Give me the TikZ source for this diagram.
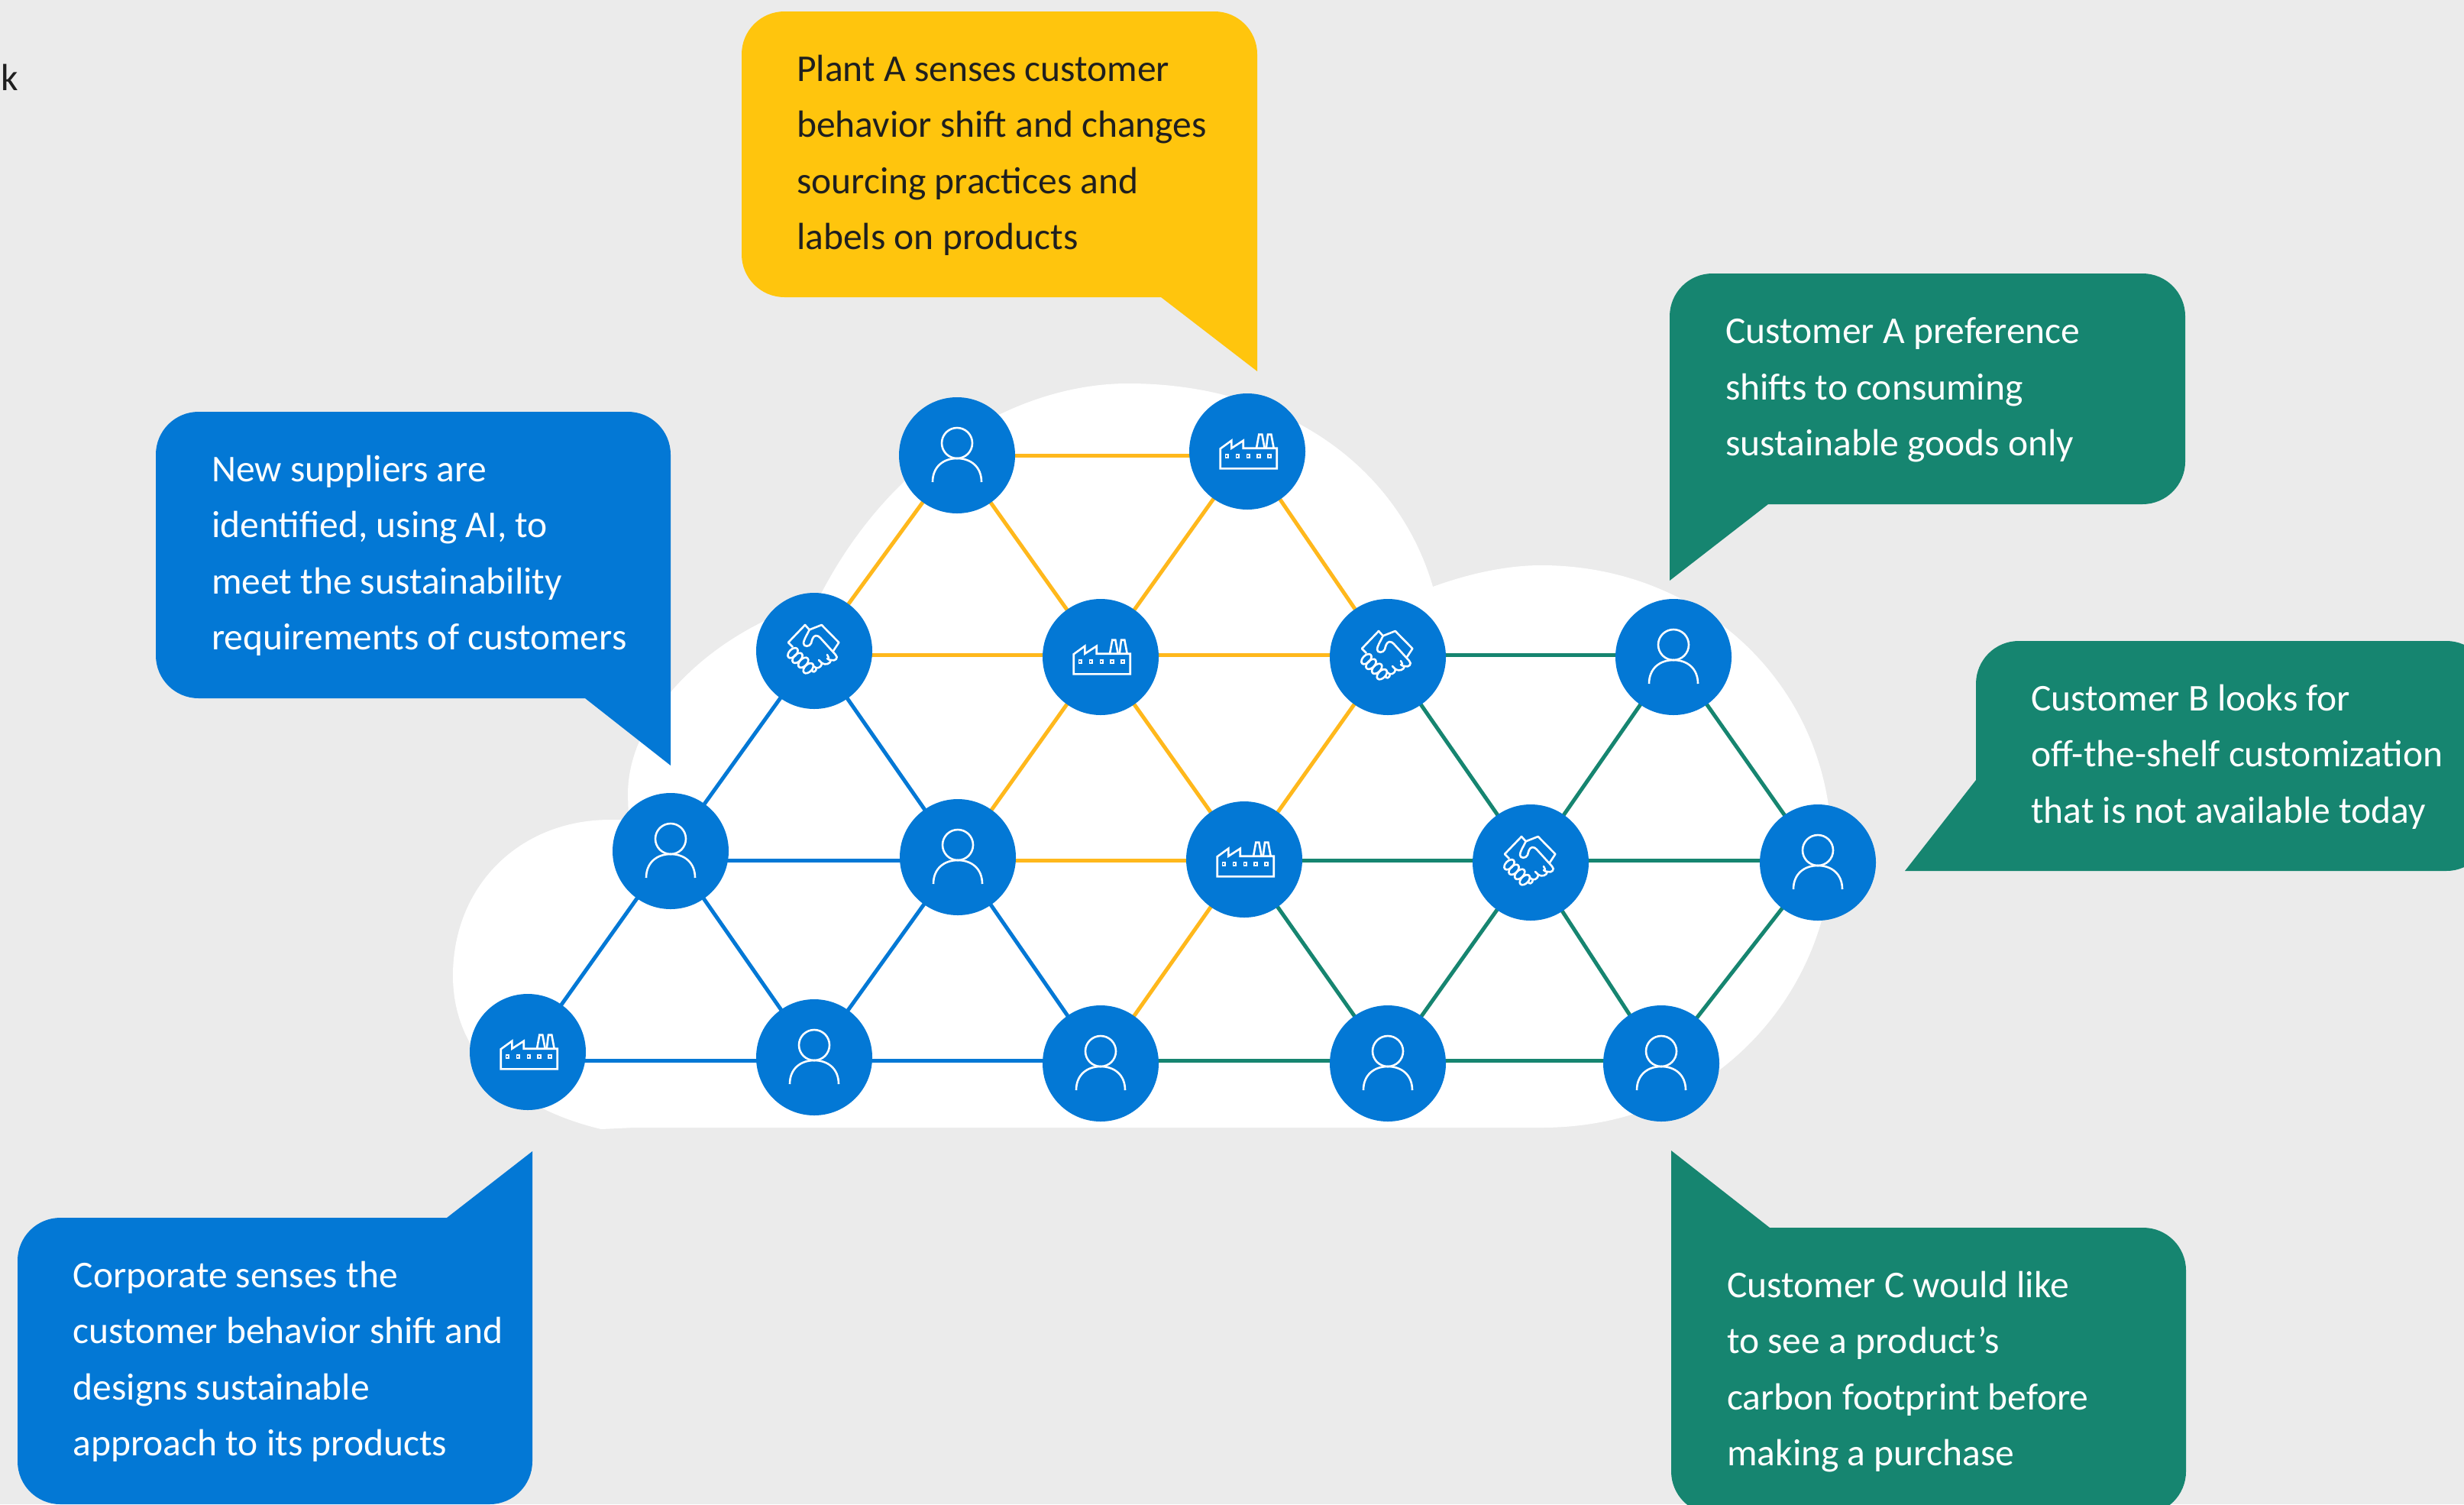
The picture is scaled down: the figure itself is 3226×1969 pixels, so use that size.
\documentclass[tikz,border=0pt]{standalone}
\usepackage{fontspec}
\setmainfont{Carlito}
\usetikzlibrary{backgrounds}
\definecolor{bgc}{HTML}{EBEBEB}
\definecolor{hubblue}{HTML}{0378D5}
\definecolor{linkyellow}{HTML}{FFB81C}
\definecolor{noteyellow}{HTML}{FFC50D}
\definecolor{notegreen}{HTML}{168570}
\tikzset{
  hub/.style={circle,fill=hubblue,draw=none,minimum size=152bp,inner sep=0pt},
  ylink/.style={draw=linkyellow,line width=5bp},
  blink/.style={draw=hubblue,line width=5bp},
  glink/.style={draw=notegreen,line width=5bp},
  note/.style={rounded corners=56bp},
  notetext/.style={anchor=base west,inner sep=0pt,font=\notefont},
  icon/.style={draw=white,line width=2.6bp,fill=none,line join=miter},
  person/.pic={
    \draw[icon] (0,-16) circle [radius=20];
    \draw[icon] (-32,35) .. controls (-32,15) and (-18,4) .. (0,4) .. controls (18,4) and (32,15) .. (32,35);
  },
  factory/.pic={
    \draw[icon] (-35.3,22.3) -- (-35.3,-3.7) -- (-20.7,-14.3) -- (-20.7,-4.3) -- (-5.3,-14.3) -- (-5.3,-4.3) -- (38.7,-4.3) -- (38.7,22.3) -- cycle;
    \draw[icon] (12,-4.3) -- (15.3,-22.3) -- (19.3,-22.3) -- (22.7,-4.3);
    \draw[icon] (24.7,-4.3) -- (27,-22.3) -- (31.3,-22.3) -- (34.7,-4.3);
    \foreach \wx in {-26.7,-12.7,1.3,15,29}{
      \draw[white,line width=1.8bp] (\wx-1.9,3.8) rectangle (\wx+1.9,7.6);
    }
  },
  handshake/.pic={
    \draw[icon,line join=round,line cap=round] (-34,-11) -- (-12,-34) -- (-6.3,-27.7) -- (9.7,-34) -- (32.3,-11) -- (25,0);
    \draw[icon,line join=round,line cap=round] (-6.3,-27.7) .. controls (-10,-20) and (-14,-14) .. (-14,-10) .. controls (-14,-5) and (-6,-5) .. (-4,-10) .. controls (-3,-14) and (-2,-19) .. (2,-20) .. controls (5,-20) and (6,-19) .. (8,-17) -- (28,5) .. controls (32,9) and (28,14) .. (22,12) .. controls (20,12) and (18,11) .. (17,10);
    \draw[icon,line join=round,line cap=round] (22,12) .. controls (21,17) and (15,19) .. (10,16) -- (6,12);
    \draw[icon,line join=round,line cap=round] (17,5) -- (19,9);
    \draw[icon,line join=round,line cap=round] (10,16) .. controls (9,23) and (3,24) .. (-1,20);
    \draw[icon,line join=round,line cap=round] (3,22) .. controls (3,28) and (-3,29) .. (-3,25);
    \draw[icon,line join=round] (-34,-11) -- (-28,-5);
    \foreach \ox/\oy in {-28/2.7,-22/9.3,-14.3/15.3,-7.7/22.7}{
      \draw[icon,rotate around={45:(\ox,\oy)}] (\ox,\oy) ellipse [x radius=8,y radius=4.8];
    }
  }
}
\newcommand{\notefont}{\fontsize{49.7}{73.9}\selectfont}
\newcommand{\notelines}[1]{\begin{tabular}[t]{@{}l@{}}#1\end{tabular}}
\begin{document}
\begin{tikzpicture}[x=1bp,y=-1bp]
\useasboundingbox (0,0) rectangle (3226,1969);

% row levels for the horizontal links
\coordinate (r1) at (0,596);
\coordinate (r2) at (0,857);
\coordinate (r3) at (0,1126);
\coordinate (r4) at (0,1388);

% hubs
\node[hub] (a1) at (1253,596) {};
\node[hub] (a2) at (1633,591) {};
\node[hub] (b1) at (1066,852) {};
\node[hub] (b2) at (1441,860) {};
\node[hub] (b3) at (1817,860) {};
\node[hub] (b4) at (2191,860) {};
\node[hub] (c1) at (878,1114) {};
\node[hub] (c2) at (1254,1122) {};
\node[hub] (c3) at (1629,1125) {};
\node[hub] (c4) at (2004,1129) {};
\node[hub] (c5) at (2380,1129) {};
\node[hub] (d1) at (691,1377) {};
\node[hub] (d2) at (1066,1384) {};
\node[hub] (d3) at (1441,1392) {};
\node[hub] (d4) at (1817,1392) {};
\node[hub] (d5) at (2175,1392) {};

\begin{scope}[on background layer]
\fill[bgc] (0,0) rectangle (3226,1969);
% cloud
\fill[white] (2018,1476) .. controls (2260,1476) and (2400,1280) .. (2398,1110)
  .. controls (2398,900) and (2230,740) .. (2018,740)
  .. controls (1970,740) and (1920,752) .. (1876,768)
  .. controls (1830,610) and (1680,502) .. (1477,502)
  .. controls (1330,502) and (1160,600) .. (1066,795)
  -- (1081,785) .. controls (960,810) and (822,920) .. (822,1040)
  -- (823,1073) -- (799,1073)
  .. controls (680,1073) and (593,1160) .. (593,1277)
  .. controls (593,1380) and (670,1450) .. (787,1478)
  -- (830,1476) -- cycle;
% links
\path[ylink] (a1 |- r1) -- (a2 |- r1);
\path[ylink] (b1 |- r2) -- (b2 |- r2);
\path[ylink] (b2 |- r2) -- (b3 |- r2);
\path[ylink] (c2 |- r3) -- (c3 |- r3);
\path[ylink] (a1.center) -- (b1.center);
\path[ylink] (a1.center) -- (b2.center);
\path[ylink] (a2.center) -- (b2.center);
\path[ylink] (a2.center) -- (b3.center);
\path[ylink] (b2.center) -- (c2.center);
\path[ylink] (b2.center) -- (c3.center);
\path[ylink] (b3.center) -- (c3.center);
\path[ylink] (c3.center) -- (d3.center);
\path[blink] (c1 |- r3) -- (c2 |- r3);
\path[blink] (d1 |- r4) -- (d2 |- r4);
\path[blink] (d2 |- r4) -- (d3 |- r4);
\path[blink] (b1.center) -- (c1.center);
\path[blink] (b1.center) -- (c2.center);
\path[blink] (c1.center) -- (d1.center);
\path[blink] (c1.center) -- (d2.center);
\path[blink] (c2.center) -- (d2.center);
\path[blink] (c2.center) -- (d3.center);
\path[glink] (b3 |- r2) -- (b4 |- r2);
\path[glink] (c3 |- r3) -- (c4 |- r3);
\path[glink] (c4 |- r3) -- (c5 |- r3);
\path[glink] (d3 |- r4) -- (d4 |- r4);
\path[glink] (d4 |- r4) -- (d5 |- r4);
\path[glink] (b3.center) -- (c4.center);
\path[glink] (b4.center) -- (c4.center);
\path[glink] (b4.center) -- (c5.center);
\path[glink] (c3.center) -- (d4.center);
\path[glink] (c4.center) -- (d4.center);
\path[glink] (c4.center) -- (d5.center);
\path[glink] (c5.center) -- (d5.center);
\end{scope}

% icons
\pic at (a1) {person};
\pic at (a2) {factory};
\pic at (b1) {handshake};
\pic at (b2) {factory};
\pic at (b3) {handshake};
\pic at (b4) {person};
\pic at (c1) {person};
\pic at (c2) {person};
\pic at (c3) {factory};
\pic at (c4) {handshake};
\pic at (c5) {person};
\pic at (d1) {factory};
\pic at (d2) {person};
\pic at (d3) {person};
\pic at (d4) {person};
\pic at (d5) {person};

% callouts
\begin{scope}
\clip (0,0) rectangle (3226,1969);
\fill[noteyellow,note] (1200,389) -- (971,389) -- (971,15) -- (1646,15) [sharp corners] -- (1646,486) -- (1520,389) -- cycle;
\fill[hubblue,note] (500,914) -- (204,914) -- (204,539) -- (878,539) [sharp corners] -- (878,1002) -- (766,914) -- cycle;
\fill[notegreen,note] (2500,358) -- (2861,358) -- (2861,660) [sharp corners] -- (2315,660) -- (2186,760) [rounded corners=56bp] -- (2186,358) -- cycle;
\fill[notegreen,note] (3000,839) -- (3259,839) -- (3259,1140) [sharp corners] -- (2494,1140) -- (2587,1021) [rounded corners=56bp] -- (2587,839) -- cycle;
\fill[notegreen,note] (2500,1982) -- (2188,1982) [sharp corners] -- (2188,1506) -- (2317,1607) [rounded corners=56bp] -- (2862,1607) -- (2862,1982) -- cycle;
\fill[hubblue,note] (300,1969) -- (23,1969) -- (23,1594) [sharp corners] -- (585,1594) -- (697,1507) [rounded corners=56bp] -- (697,1969) -- cycle;
\end{scope}
\node[notetext,text=black!88] (tplant) at (1043,106) {\notefont\notelines{Plant A senses customer\\behavior shift and changes\\sourcing practices and\\labels on products}};
\node[notetext,text=white] (tnew) at (277,630) {\notefont\notelines{New suppliers are\\identified, using AI, to\\meet the sustainability\\requirements of customers}};
\node[notetext,text=white] (tcusta) at (2259,449.5) {\notefont\notelines{Customer A preference\\shifts to consuming\\sustainable goods only}};
\node[notetext,text=white] (tcustb) at (2659,930) {\notefont\notelines{Customer B looks for\\off-the-shelf customization\\that is not available today}};
\node[notetext,text=white] (tcustc) at (2261,1698) {\notefont\notelines{Customer C would like\\to see a product’s\\carbon footprint before\\making a purchase}};
\node[notetext,text=white] (tcorp) at (95.5,1685) {\notefont\notelines{Corporate senses the\\customer behavior shift and\\designs sustainable\\approach to its products}};
\node[notetext,text=black!88] (tk) at (1,118) {k};
\end{tikzpicture}
\end{document}
